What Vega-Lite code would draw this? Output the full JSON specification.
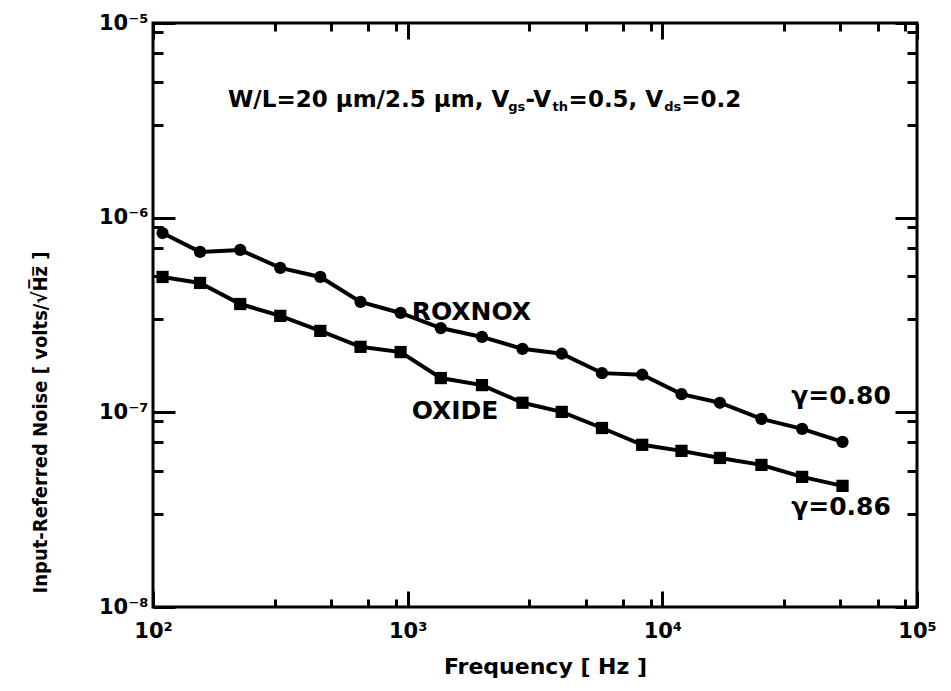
{
  "$schema": "https://vega.github.io/schema/vega-lite/v6.json",
  "width": 764,
  "height": 584,
  "autosize": "none",
  "padding": {"left": 153, "top": 23, "right": 34, "bottom": 84},
  "background": "white",
  "config": {"view": {"stroke": "black", "strokeWidth": 3}, "font": "DejaVu Sans"},
  "datasets": {
    "noise": [
      {"series": "ROXNOX", "f": 109, "v": 8.34e-7},
      {"series": "ROXNOX", "f": 153, "v": 6.67e-7},
      {"series": "ROXNOX", "f": 220, "v": 6.83e-7},
      {"series": "ROXNOX", "f": 316, "v": 5.52e-7},
      {"series": "ROXNOX", "f": 454, "v": 4.96e-7},
      {"series": "ROXNOX", "f": 653, "v": 3.69e-7},
      {"series": "ROXNOX", "f": 938, "v": 3.24e-7},
      {"series": "ROXNOX", "f": 1349, "v": 2.71e-7},
      {"series": "ROXNOX", "f": 1958, "v": 2.44e-7},
      {"series": "ROXNOX", "f": 2824, "v": 2.12e-7},
      {"series": "ROXNOX", "f": 4027, "v": 2.0e-7},
      {"series": "ROXNOX", "f": 5794, "v": 1.59e-7},
      {"series": "ROXNOX", "f": 8337, "v": 1.56e-7},
      {"series": "ROXNOX", "f": 11890, "v": 1.24e-7},
      {"series": "ROXNOX", "f": 16830, "v": 1.12e-7},
      {"series": "ROXNOX", "f": 24500, "v": 9.25e-8},
      {"series": "ROXNOX", "f": 35400, "v": 8.22e-8},
      {"series": "ROXNOX", "f": 51000, "v": 7.05e-8},
      {"series": "OXIDE", "f": 109, "v": 4.96e-7},
      {"series": "OXIDE", "f": 153, "v": 4.62e-7},
      {"series": "OXIDE", "f": 220, "v": 3.6e-7},
      {"series": "OXIDE", "f": 316, "v": 3.13e-7},
      {"series": "OXIDE", "f": 454, "v": 2.62e-7},
      {"series": "OXIDE", "f": 653, "v": 2.17e-7},
      {"series": "OXIDE", "f": 938, "v": 2.04e-7},
      {"series": "OXIDE", "f": 1349, "v": 1.5e-7},
      {"series": "OXIDE", "f": 1958, "v": 1.38e-7},
      {"series": "OXIDE", "f": 2824, "v": 1.12e-7},
      {"series": "OXIDE", "f": 4027, "v": 1.005e-7},
      {"series": "OXIDE", "f": 5794, "v": 8.31e-8},
      {"series": "OXIDE", "f": 8337, "v": 6.81e-8},
      {"series": "OXIDE", "f": 11890, "v": 6.34e-8},
      {"series": "OXIDE", "f": 16830, "v": 5.83e-8},
      {"series": "OXIDE", "f": 24500, "v": 5.37e-8},
      {"series": "OXIDE", "f": 35400, "v": 4.66e-8},
      {"series": "OXIDE", "f": 51000, "v": 4.19e-8}
    ],
    "labels": [
      {"t": "ROXNOX", "f": 1037, "v": 3.28e-7},
      {"t": "OXIDE", "f": 1037, "v": 1.016e-7},
      {"t": "γ=0.80", "f": 32060, "v": 1.213e-7},
      {"t": "γ=0.86", "f": 32060, "v": 3.27e-8}
    ],
    "header": [
      {"t": "W/L=20 µm/2.5 µm, V", "f": 197, "v": 4.03e-6},
      {"t": "-V", "f": 2900, "v": 4.03e-6},
      {"t": "=0.5, V", "f": 4285, "v": 4.03e-6},
      {"t": "=0.2", "f": 11855, "v": 4.03e-6}
    ],
    "subs": [
      {"t": "gs", "f": 2483, "v": 3.7e-6},
      {"t": "th", "f": 3706, "v": 3.7e-6},
      {"t": "ds", "f": 10180, "v": 3.7e-6}
    ]
  },
  "layer": [
    {
      "encoding": {
        "x": {
          "field": "f", "type": "quantitative",
          "scale": {"type": "log", "domain": [100, 100000], "nice": false},
          "axis": {
            "orient": "bottom",
            "values": [100, 300, 500, 700, 900, 1000, 3000, 5000, 7000, 9000, 10000, 30000, 50000, 70000, 90000, 100000],
            "labelExpr": "datum.value==100?'10²':datum.value==1000?'10³':datum.value==10000?'10⁴':datum.value==100000?'10⁵':''",
            "domain": false, "grid": false,
            "tickColor": "black", "tickWidth": 3,
            "tickSize": {"condition": {"test": "datum.value==100||datum.value==1000||datum.value==10000||datum.value==100000", "value": -16}, "value": -8},
            "labelFont": "DejaVu Sans", "labelFontWeight": "bold", "labelFontSize": 21, "labelColor": "black",
            "labelPadding": 29, "labelFlush": false, "labelOverlap": false, "labelBound": false,
            "title": "Frequency [ Hz ]",
            "titleFont": "DejaVu Sans", "titleFontWeight": "bold", "titleFontSize": 22, "titleColor": "black",
            "titleX": 392, "titleY": 59, "titleBaseline": "middle", "titleAlign": "center"
          }
        },
        "y": {
          "field": "v", "type": "quantitative",
          "scale": {"type": "log", "domain": [1e-8, 1e-5], "nice": false},
          "axis": {
            "orient": "left",
            "values": [1e-8, 3e-8, 5e-8, 7e-8, 9e-8, 1e-7, 3e-7, 5e-7, 7e-7, 9e-7, 1e-6, 3e-6, 5e-6, 7e-6, 9e-6, 1e-5],
            "labelExpr": "datum.value==1e-8?'10⁻⁸':datum.value==1e-7?'10⁻⁷':datum.value==1e-6?'10⁻⁶':datum.value==1e-5?'10⁻⁵':''",
            "domain": false, "grid": false,
            "tickColor": "black", "tickWidth": 3,
            "tickSize": {"condition": {"test": "datum.value==1e-8||datum.value==1e-7||datum.value==1e-6||datum.value==1e-5", "value": -22}, "value": -10},
            "labelFont": "DejaVu Sans", "labelFontWeight": "bold", "labelFontSize": 21, "labelColor": "black",
            "labelPadding": 27, "labelFlush": false, "labelOverlap": false, "labelBound": false,
            "title": "Input-Referred Noise [ volts/√H̅z̅ ]",
            "titleFont": "DejaVu Sans Condensed", "titleFontWeight": "bold", "titleFontSize": 20, "titleColor": "black",
            "titleX": -113, "titleY": 399, "titleAngle": -90, "titleBaseline": "middle", "titleAlign": "center"
          }
        }
      },
      "layer": [
        {
          "data": {"name": "noise"},
          "mark": {"type": "line", "color": "black", "strokeWidth": 4},
          "encoding": {"detail": {"field": "series"}}
        },
        {
          "data": {"name": "noise"},
          "mark": {"type": "point", "filled": true, "color": "black", "size": 150, "opacity": 1},
          "encoding": {
            "shape": {"field": "series", "type": "nominal", "scale": {"domain": ["ROXNOX", "OXIDE"], "range": ["circle", "square"]}, "legend": null}
          }
        },
        {
          "data": {"name": "labels"},
          "mark": {"type": "text", "align": "left", "baseline": "middle", "font": "DejaVu Sans", "fontWeight": "bold", "fontSize": 25, "color": "black"},
          "encoding": {"text": {"field": "t"}}
        },
        {
          "data": {"name": "header"},
          "mark": {"type": "text", "align": "left", "baseline": "middle", "font": "DejaVu Sans", "fontWeight": "bold", "fontSize": 23, "color": "black"},
          "encoding": {"text": {"field": "t"}}
        },
        {
          "data": {"name": "subs"},
          "mark": {"type": "text", "align": "left", "baseline": "middle", "font": "DejaVu Sans", "fontWeight": "bold", "fontSize": 13, "color": "black"},
          "encoding": {"text": {"field": "t"}}
        }
      ]
    },
    {
      "data": {"name": "noise"},
      "mark": {"type": "point", "opacity": 0},
      "encoding": {
        "x": {
          "field": "f", "type": "quantitative",
          "scale": {"type": "log", "domain": [100, 100000], "nice": false},
          "axis": {
            "orient": "top",
            "values": [100, 300, 500, 700, 900, 1000, 3000, 5000, 7000, 9000, 10000, 30000, 50000, 70000, 90000, 100000],
            "labels": false, "domain": false, "grid": false, "title": null,
            "tickColor": "black", "tickWidth": 3,
            "tickSize": {"condition": {"test": "datum.value==100||datum.value==1000||datum.value==10000||datum.value==100000", "value": -16}, "value": -8}
          }
        },
        "y": {
          "field": "v", "type": "quantitative",
          "scale": {"type": "log", "domain": [1e-8, 1e-5], "nice": false},
          "axis": {
            "orient": "right",
            "values": [1e-8, 3e-8, 5e-8, 7e-8, 9e-8, 1e-7, 3e-7, 5e-7, 7e-7, 9e-7, 1e-6, 3e-6, 5e-6, 7e-6, 9e-6, 1e-5],
            "labels": false, "domain": false, "grid": false, "title": null,
            "tickColor": "black", "tickWidth": 3,
            "tickSize": {"condition": {"test": "datum.value==1e-8||datum.value==1e-7||datum.value==1e-6||datum.value==1e-5", "value": -22}, "value": -10}
          }
        }
      }
    }
  ],
  "resolve": {
    "scale": {"x": "independent", "y": "independent"},
    "axis": {"x": "independent", "y": "independent"}
  }
}
